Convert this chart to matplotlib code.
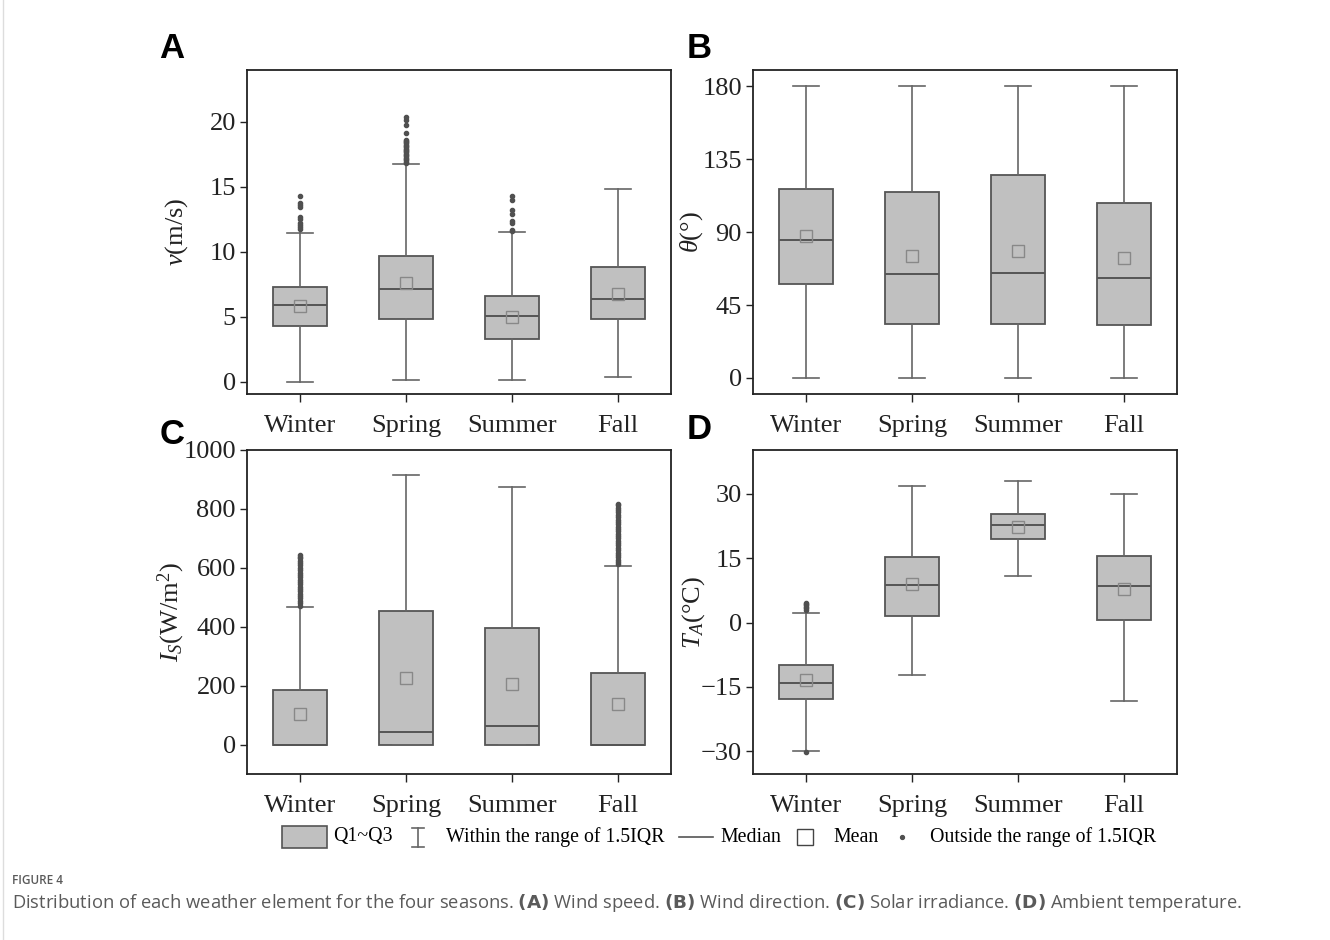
import matplotlib
matplotlib.use("Agg")
import matplotlib.pyplot as plt
from matplotlib.lines import Line2D
from matplotlib.patches import Rectangle

plt.rcParams['font.family'] = ['Liberation Serif', 'DejaVu Serif']
plt.rcParams['mathtext.fontset'] = 'custom'
plt.rcParams['mathtext.rm'] = 'Liberation Serif'
plt.rcParams['mathtext.it'] = 'Liberation Serif:italic'

seasons = ['Winter', 'Spring', 'Summer', 'Fall']

# wind speed (m/s)
v_q1 = [4.32, 4.86, 3.32, 4.81]
v_med = [5.94, 7.12, 5.04, 6.40]
v_q3 = [7.30, 9.64, 6.61, 8.82]
v_lo = [0.0, 0.10, 0.10, 0.33]
v_hi = [11.41, 16.76, 11.52, 14.83]
v_mean = [5.84, 7.56, 5.01, 6.76]
v_out = [
    [11.75, 11.88, 12.03, 12.21, 12.52, 12.65, 13.44, 13.57, 13.75, 14.32],
    [16.85, 16.95, 17.05, 17.15, 17.25, 17.35, 17.45, 17.55, 17.65, 17.75,
     17.85, 17.95, 18.05, 18.15, 18.25, 18.35, 18.45, 18.55, 18.64,
     19.13, 19.74, 20.18, 20.39],
    [11.57, 11.70, 12.21, 12.34, 12.93, 13.19, 14.01, 14.27],
    [],
]

# wind direction (deg)
d_q1 = [57.9, 33.5, 33.1, 32.7]
d_med = [85.1, 64.1, 64.9, 61.8]
d_q3 = [116.5, 115.1, 125.3, 107.7]
d_lo = [0, 0, 0, 0]
d_hi = [180, 180, 180, 180]
d_mean = [87.9, 75.2, 78.5, 74.0]
d_out = [[], [], [], []]

# solar irradiance (W/m2)
s_q1 = [0, 0, 0, 0]
s_med = [0, 41.8, 63.3, 0]
s_q3 = [186.4, 454, 394, 243]
s_lo = [0, 0, 0, 0]
s_hi = [465.5, 915, 875.7, 604.5]
s_mean = [104, 226, 206.8, 137.9]
s_out = [
    [472, 480, 488, 496, 504, 512, 520, 528, 536, 544, 552, 560, 568, 576,
     584, 592, 600, 608, 616, 624, 632, 638, 644],
    [],
    [],
    [612, 620, 628, 636, 644, 652, 660, 668, 676, 684, 692, 700, 708, 716,
     724, 732, 740, 748, 756, 764, 772, 780, 788, 796, 804, 812, 818],
]

# ambient temperature (C)
t_q1 = [-17.8, 1.63, 19.5, 0.62]
t_med = [-14.1, 8.76, 22.7, 8.45]
t_q3 = [-9.84, 15.2, 25.3, 15.5]
t_lo = [-30.0, -12.2, 10.9, -18.3]
t_hi = [2.25, 31.7, 32.9, 30.0]
t_mean = [-13.5, 8.9, 22.3, 7.75]
t_out = [[2.8, 3.3, 3.6, 4.1, 4.4, 4.65, -30.1], [], [], []]

panels = [
    ('A', v_q1, v_med, v_q3, v_lo, v_hi, v_mean, v_out,
     '$v$(m/s)', (-0.95, 24.0), [0, 5, 10, 15, 20], -0.134),
    ('B', d_q1, d_med, d_q3, d_lo, d_hi, d_mean, d_out,
     r'$\theta$(°)', (-9.9, 190.1), [0, 45, 90, 135, 180], -0.113),
    ('C', s_q1, s_med, s_q3, s_lo, s_hi, s_mean, s_out,
     '$I_S$(W/m$^2$)', (-100, 1000), [0, 200, 400, 600, 800, 1000], -0.142),
    ('D', t_q1, t_med, t_q3, t_lo, t_hi, t_mean, t_out,
     '$T_A$(°C)', (-35.3, 40.2), [-30, -15, 0, 15, 30], -0.108),
]

W, H = 1330, 940
fig = plt.figure(figsize=(13.3, 9.4), dpi=100)

# axes boxes in pixels: left, top, right, bottom
boxes = [(247, 70, 671, 394), (753, 70, 1177, 394),
         (247, 450, 671, 774), (753, 450, 1177, 774)]
letter_pos = [(172, 48), (699, 48), (172, 434), (699, 430)]

BOX_FC = '#c0c0c0'
EDGE = '#555555'
LINE = '#666666'

for (lab, q1, med, q3, lo, hi, mn, out, ylab, ylim, yt, lx), (l, t, r, b), lp in zip(panels, boxes, letter_pos):
    ax = fig.add_axes([l / W, 1 - b / H, (r - l) / W, (b - t) / H])
    stats = []
    for i in range(4):
        stats.append(dict(label=seasons[i], q1=q1[i], med=med[i], q3=q3[i],
                          whislo=lo[i], whishi=hi[i], mean=mn[i], fliers=out[i]))
    ax.bxp(stats, positions=[1, 2, 3, 4], widths=0.51, capwidths=0.25,
           patch_artist=True, showmeans=True,
           boxprops=dict(facecolor=BOX_FC, edgecolor=EDGE, linewidth=1.3),
           medianprops=dict(color=EDGE, linewidth=1.4),
           whiskerprops=dict(color=LINE, linewidth=1.2),
           capprops=dict(color=LINE, linewidth=1.2),
           meanprops=dict(marker='s', markerfacecolor='none',
                          markeredgecolor='#888888', markersize=9,
                          markeredgewidth=1.0),
           flierprops=dict(marker='o', markersize=3, markerfacecolor='#505050',
                           markeredgecolor='#505050'))
    ax.set_xlim(0.5, 4.5)
    ax.set_ylim(*ylim)
    ax.set_yticks(yt)
    ax.set_xticks([1, 2, 3, 4])
    ax.set_xticklabels(seasons)
    ax.tick_params(axis='y', direction='out', length=5, width=1, labelsize=19,
                   pad=3, colors='#222222')
    ax.tick_params(axis='x', direction='out', length=6, width=1, labelsize=19,
                   pad=9, colors='#222222')
    for sp in ax.spines.values():
        sp.set_linewidth(1.3)
        sp.set_color('#222222')
    ax.set_ylabel(ylab, fontsize=19, color='#222222')
    ax.yaxis.set_label_coords(lx, 0.5)
    fig.text(lp[0] / W, 1 - lp[1] / H, lab, fontsize=25, fontweight='bold',
             family='Liberation Sans', ha='center', va='center')

# legend row
ly = 1 - 837 / H
fig.add_artist(Rectangle((282 / W, 1 - 848 / H), 45 / W, 22 / H,
                         facecolor=BOX_FC, edgecolor=EDGE, linewidth=1.2,
                         transform=fig.transFigure))
fig.text(333 / W, ly, 'Q1~Q3', fontsize=14.3, va='center', ha='left')
wx = 418 / W
fig.add_artist(Line2D([wx, wx], [1 - 828 / H, 1 - 847 / H], color=LINE, lw=1.2,
                      transform=fig.transFigure))
for yy in (828, 847):
    fig.add_artist(Line2D([412 / W, 424 / W], [1 - yy / H, 1 - yy / H],
                          color=LINE, lw=1.2, transform=fig.transFigure))
fig.text(446 / W, ly, 'Within the range of 1.5IQR', fontsize=14.3, va='center', ha='left')
fig.add_artist(Line2D([679 / W, 713 / W], [ly, ly], color=EDGE, lw=1.2,
                      transform=fig.transFigure))
fig.text(720 / W, ly, 'Median', fontsize=14.3, va='center', ha='left')
fig.add_artist(Rectangle((797 / W, 1 - 845 / H), 16 / W, 16 / H,
                         facecolor='none', edgecolor='#444444', linewidth=1.0,
                         transform=fig.transFigure))
fig.text(833 / W, ly, 'Mean', fontsize=14.3, va='center', ha='left')
fig.add_artist(Line2D([902 / W], [ly], marker='o', markersize=2.8, color='#505050',
                      transform=fig.transFigure))
fig.text(930 / W, ly, 'Outside the range of 1.5IQR', fontsize=14.3, va='center', ha='left')

# caption
fig.add_artist(Line2D([3 / W, 3 / W], [0, 1], color='#dddddd', lw=1,
                      transform=fig.transFigure))
fig.text(12 / W, 1 - 881 / H, 'FIGURE 4', fontsize=8.5, family='Open Sans',
         color='#5a5a5a', va='center', fontweight='semibold')
fig.text(12 / W, 1 - 903 / H,
         'Distribution of each weather element for the four seasons. '
         r'$\bf{(A)}$ Wind speed. $\bf{(B)}$ Wind direction. '
         r'$\bf{(C)}$ Solar irradiance. $\bf{(D)}$ Ambient temperature.',
         fontsize=13.2, family='Open Sans', color='#5a5a5a', va='center')

fig.savefig('out.png', dpi=100, facecolor='white')
